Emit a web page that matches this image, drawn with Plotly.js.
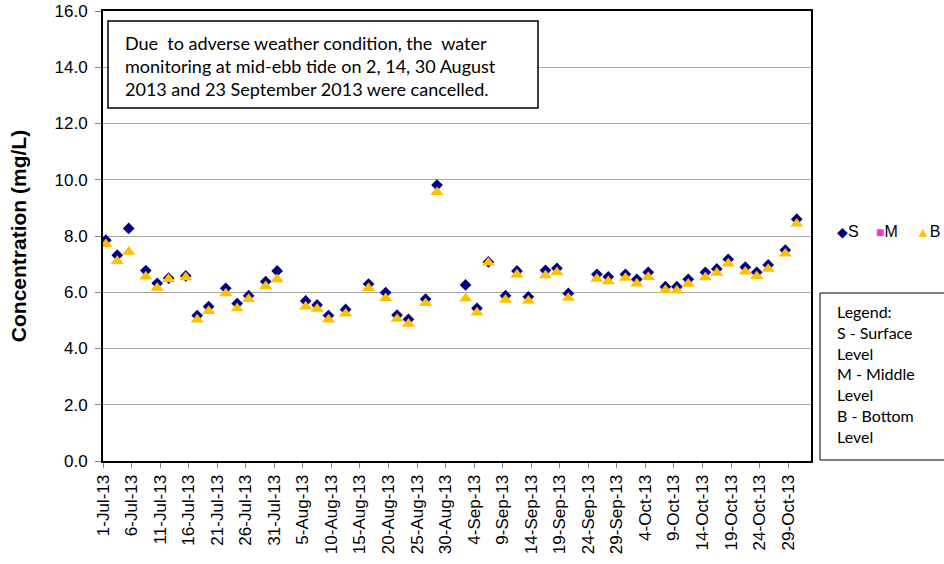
<!DOCTYPE html>
<html>
<head>
<meta charset="utf-8">
<script src="https://cdn.plot.ly/plotly-3.0.1.min.js"></script>
<style>html,body{margin:0;padding:0;background:#fff;}#chart{width:944px;height:564px;}</style>
</head>
<body>
<div id="chart"></div>
<script>
// Sampling dates (mid-ebb tide monitoring, Mon/Wed/Fri)
const sampleDates = [
  '2013-07-01','2013-07-03','2013-07-05','2013-07-08','2013-07-10','2013-07-12',
  '2013-07-15','2013-07-17','2013-07-19','2013-07-22','2013-07-24','2013-07-26',
  '2013-07-29','2013-07-31','2013-08-05','2013-08-07','2013-08-09','2013-08-12',
  '2013-08-16','2013-08-19','2013-08-21','2013-08-23','2013-08-26','2013-08-28',
  '2013-09-02','2013-09-04','2013-09-06','2013-09-09','2013-09-11','2013-09-13',
  '2013-09-16','2013-09-18','2013-09-20','2013-09-25','2013-09-27','2013-09-30',
  '2013-10-02','2013-10-04','2013-10-07','2013-10-09','2013-10-11','2013-10-14',
  '2013-10-16','2013-10-18','2013-10-21','2013-10-23','2013-10-25','2013-10-28',
  '2013-10-30'
];
// S - Surface level (mg/L)
const surfaceValues = [
  7.85, 7.32, 8.27, 6.77, 6.32, 6.50,
  6.58, 5.17, 5.49, 6.14, 5.60, 5.88,
  6.38, 6.76, 5.69, 5.55, 5.17, 5.39,
  6.29, 5.99, 5.19, 5.04, 5.76, 9.81,
  6.26, 5.43, 7.08, 5.88, 6.76, 5.84,
  6.78, 6.85, 5.96, 6.64, 6.55, 6.64,
  6.46, 6.71, 6.20, 6.20, 6.46, 6.71,
  6.83, 7.17, 6.89, 6.71, 6.97, 7.50,
  8.60
];
// M - Middle level (no values shown)
const middleValues = [];
// B - Bottom level (mg/L)
const bottomValues = [
  7.80, 7.20, 7.53, 6.65, 6.25, 6.56,
  6.62, 5.12, 5.42, 6.05, 5.52, 5.85,
  6.30, 6.55, 5.58, 5.50, 5.12, 5.33,
  6.24, 5.88, 5.14, 4.97, 5.70, 9.65,
  5.87, 5.37, 7.14, 5.82, 6.72, 5.79,
  6.69, 6.80, 5.89, 6.57, 6.48, 6.60,
  6.40, 6.63, 6.17, 6.15, 6.39, 6.62,
  6.78, 7.11, 6.82, 6.66, 6.92, 7.46,
  8.53
];
// x-axis tick labels
const tickDates = [
  '2013-07-01','2013-07-06','2013-07-11','2013-07-16','2013-07-21','2013-07-26',
  '2013-07-31','2013-08-05','2013-08-10','2013-08-15','2013-08-20','2013-08-25',
  '2013-08-30','2013-09-04','2013-09-09','2013-09-14','2013-09-19','2013-09-24',
  '2013-09-29','2013-10-04','2013-10-09','2013-10-14','2013-10-19','2013-10-24',
  '2013-10-29'
];
const tickLabels = [
  '1-Jul-13','6-Jul-13','11-Jul-13','16-Jul-13','21-Jul-13','26-Jul-13',
  '31-Jul-13','5-Aug-13','10-Aug-13','15-Aug-13','20-Aug-13','25-Aug-13',
  '30-Aug-13','4-Sep-13','9-Sep-13','14-Sep-13','19-Sep-13','24-Sep-13',
  '29-Sep-13','4-Oct-13','9-Oct-13','14-Oct-13','19-Oct-13','24-Oct-13',
  '29-Oct-13'
];
const yTickVals = [0,2,4,6,8,10,12,14,16];
const yTickLabels = ['0.0','2.0','4.0','6.0','8.0','10.0','12.0','14.0','16.0'];

// each sample sits in the middle of its day slot
const xMid = sampleDates.map(d => d + ' 12:00');

const L = 103, R = 811, T = 11, B = 461;
const px = v => (v - L) / (R - L);
const py = v => (B - v) / (B - T);

const traces = [
  {x: xMid, y: surfaceValues, type: 'scatter', mode: 'markers', name: 'S',
   marker: {symbol: 'diamond', size: 9, color: '#000080'}},
  {x: middleValues.map((v, i) => xMid[i]), y: middleValues, type: 'scatter', mode: 'markers', name: 'M',
   marker: {symbol: 'square', size: 8, color: '#FF33CC'}},
  {x: xMid, y: bottomValues, type: 'scatter', mode: 'markers', name: 'B', yaxis: 'y2',
   marker: {symbol: 'triangle-up', size: 11.5, color: '#FFC000'}}
];

const ann = [];
const boxFont = {family: 'Lato, "Open Sans", sans-serif', size: 18, color: '#000'};
const noteLines = [
  'Due  to adverse weather condition, the  water',
  'monitoring at mid-ebb tide on 2, 14, 30 August',
  '2013 and 23 September 2013 were cancelled.'
];
noteLines.forEach((t, i) => ann.push({
  xref: 'paper', yref: 'paper', x: px(123), y: py(43 + i * 23), xanchor: 'left', yanchor: 'middle',
  text: t, showarrow: false, font: boxFont
}));
ann.push({
  xref: 'paper', yref: 'paper', x: px(835), y: py(300), xanchor: 'left', yanchor: 'top', align: 'left',
  text: 'Legend:<br>S - Surface<br>Level<br>M - Middle<br>Level<br>B - Bottom<br>Level',
  showarrow: false, font: {family: 'Lato, "Open Sans", sans-serif', size: 16, color: '#000'}
});
// series key
const keyItems = [
  {sym: '◆', col: '#000080', txt: 'S', x: 835},
  {sym: '■', col: '#FF33CC', txt: 'M', x: 874},
  {sym: '▲', col: '#FFC000', txt: 'B', x: 914}
];
keyItems.forEach(k => ann.push({
  xref: 'paper', yref: 'paper', x: px(k.x), y: py(231), xanchor: 'left', yanchor: 'middle',
  text: '<span style="color:' + k.col + ';font-size:14px">' + k.sym + '</span>' + k.txt,
  showarrow: false, font: {family: 'Arial, "Liberation Sans", sans-serif', size: 16, color: '#000'}
}));

const layout = {
  width: 944, height: 564,
  margin: {l: L, r: 944 - R, t: T, b: 564 - B, pad: 0},
  paper_bgcolor: '#fff', plot_bgcolor: '#fff',
  showlegend: false,
  font: {family: 'Arial, "Liberation Sans", sans-serif', color: '#000'},
  xaxis: {
    type: 'date', range: ['2013-07-01', '2013-11-02'],
    tickmode: 'array', tickvals: tickDates, ticktext: tickLabels,
    tickangle: -90, tickfont: {size: 17, color: '#000'},
    ticks: 'outside', ticklen: 5, tickcolor: '#808080', tickwidth: 1,
    showgrid: false, zeroline: false,
    showline: true, linecolor: '#000', linewidth: 2, mirror: true
  },
  yaxis: {
    range: [0, 16], tickmode: 'array', tickvals: yTickVals, ticktext: yTickLabels,
    tickfont: {size: 17, color: '#000'}, ticklabelstandoff: 4,
    ticks: 'outside', ticklen: 6, tickcolor: '#808080', tickwidth: 1,
    showgrid: true, gridcolor: '#a6a6a6', gridwidth: 1, zeroline: false,
    showline: true, linecolor: '#000', linewidth: 2, mirror: true,
    title: {text: '<b>Concentration (mg/L)</b>', font: {size: 21, color: '#000'}, standoff: 22},
    automargin: false
  },
  // same scale as yaxis; offsets the triangle so its box is centred on the value
  yaxis2: {overlaying: 'y', range: [0.09, 16.09], visible: false, fixedrange: true},
  shapes: [
    {type: 'rect', xref: 'paper', yref: 'paper', x0: px(108), x1: px(538), y0: py(108), y1: py(21),
     line: {color: '#000', width: 1.5}, fillcolor: '#fff', layer: 'above'},
    {type: 'rect', xref: 'paper', yref: 'paper', x0: px(820), x1: px(950), y0: py(460), y1: py(293),
     line: {color: '#000', width: 1}, fillcolor: '#fff'}
  ],
  annotations: ann
};

Plotly.newPlot('chart', traces, layout, {staticPlot: true, displayModeBar: false});
</script>
</body>
</html>
